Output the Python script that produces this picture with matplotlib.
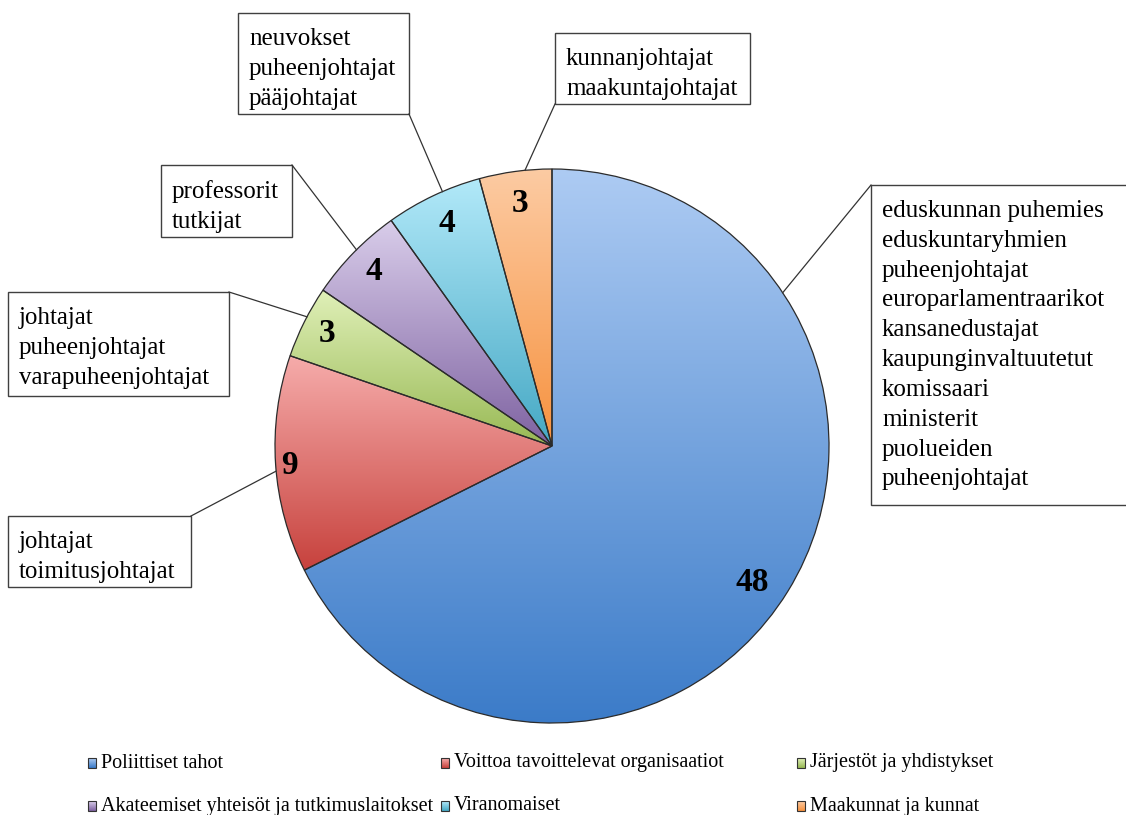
import numpy as np
import matplotlib.pyplot as plt
from matplotlib.patches import Rectangle

plt.rcParams['font.family'] = ['Liberation Serif', 'DejaVu Serif']

# data
categories = ["Poliittiset tahot", "Voittoa tavoittelevat organisaatiot",
              "Järjestöt ja yhdistykset", "Akateemiset yhteisöt ja tutkimuslaitokset",
              "Viranomaiset", "Maakunnat ja kunnat"]
values = [48, 9, 3, 4, 4, 3]
box_texts = [
    "eduskunnan puhemies\neduskuntaryhmien\npuheenjohtajat\neuroparlamentraarikot\n"
    "kansanedustajat\nkaupunginvaltuutetut\nkomissaari\nministerit\npuolueiden\npuheenjohtajat",
    "johtajat\ntoimitusjohtajat",
    "johtajat\npuheenjohtajat\nvarapuheenjohtajat",
    "professorit\ntutkijat",
    "neuvokset\npuheenjohtajat\npääjohtajat",
    "kunnanjohtajat\nmaakuntajohtajat",
]

# gradient colours (top light -> bottom dark)
light = ["#adcbf3", "#f6acab", "#e0f0b8", "#d9cdea", "#b2e9f9", "#fccba3"]
dark = ["#3b7bc8", "#c7423d", "#98b954", "#7e62a1", "#45a8c4", "#f7923f"]

# layout (pixel coordinates, y downwards)
W, H = 1126, 815
cx, cy, R = 552, 446, 277
num_dist = [0.875, 0.95, 0.91, 0.9, 0.89, 0.885]
num_turn = [2.7, -0.5, 0, 0, 0, 0]
boxes = [(871, 185, 300, 320), (8, 516, 183, 71), (8, 292, 221, 104),
         (161, 165, 131, 72), (238, 13, 171, 101), (555, 33, 195, 71)]
box_corner = [(871, 185), (191, 516), (229, 292), (292, 165), (409, 114), (555, 104)]
leader_angle = [33.6, 185.2, 152.2, 134.9, 113.3, 95.6]


def hex_rgb(h):
    return np.array([int(h[i:i + 2], 16) / 255 for i in (1, 3, 5)])


def gradient(c1, c2, n=256):
    t = np.linspace(0, 1, n)[:, None]
    return (hex_rgb(c1) * (1 - t) + hex_rgb(c2) * t)[:, None, :]


fig = plt.figure(figsize=(W / 100, H / 100), dpi=100)
ax = fig.add_axes([0, 0, 1, 1])

wedges, _ = ax.pie(values, center=(cx, cy), radius=R, startangle=-90, counterclock=True,
                   colors=['none'] * len(values),
                   wedgeprops=dict(edgecolor='#2b2b2b', linewidth=0.9, zorder=3))

for i, w in enumerate(wedges):
    verts = w.get_patch_transform().transform(w.get_path().vertices)
    x0, y0 = verts.min(axis=0)
    x1, y1 = verts.max(axis=0)
    im = ax.imshow(gradient(light[i], dark[i]), extent=(x0, x1, y1, y0),
                   origin='upper', aspect='auto', zorder=2, interpolation='bilinear')
    im.set_clip_path(w)
    mid = np.deg2rad((w.theta1 + w.theta2) / 2 + num_turn[i])
    ax.text(cx + num_dist[i] * R * np.cos(mid), cy + num_dist[i] * R * np.sin(mid),
            str(values[i]), ha='center', va='center', fontsize=24,
            fontweight='bold', zorder=5)

# callout boxes with leader lines
for i in range(len(values)):
    bx, by, bw, bh = boxes[i]
    ax.add_patch(Rectangle((bx, by), bw, bh, facecolor='white', edgecolor='#404040',
                           linewidth=1.0, zorder=4))
    ax.text(bx + 11, by + 15, box_texts[i], ha='left', va='top', fontsize=18,
            linespacing=1.46, zorder=5)
    phi = np.deg2rad(leader_angle[i])
    ex, ey = cx + R * np.cos(phi), cy - R * np.sin(phi)
    ax.plot([box_corner[i][0], ex], [box_corner[i][1], ey], color='#333333',
            linewidth=0.9, zorder=4)

# legend
leg_x = [88, 441, 797]
leg_y = [763, 806]
for i, name in enumerate(categories):
    lx, ly = leg_x[i % 3], leg_y[i // 3]
    im = ax.imshow(gradient(light[i], dark[i], 16), extent=(lx, lx + 8, ly + 5, ly - 5),
                   origin='upper', aspect='auto', zorder=3)
    ax.add_patch(Rectangle((lx, ly - 5), 8, 10, facecolor='none', edgecolor='#333333',
                           linewidth=0.8, zorder=4))
    ax.text(lx + 13, ly, name, ha='left', va='center', fontsize=14.5, zorder=5)

ax.set_xlim(0, W)
ax.set_ylim(H, 0)
ax.axis('off')

fig.savefig('out.png', dpi=100)
